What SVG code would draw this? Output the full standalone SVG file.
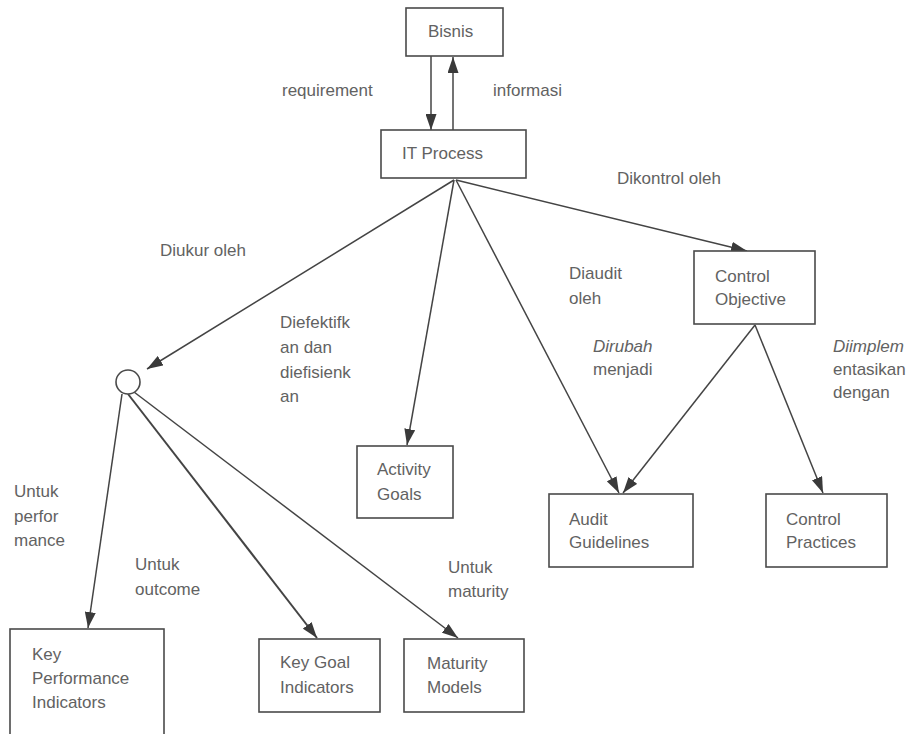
<svg xmlns="http://www.w3.org/2000/svg" width="913" height="734" viewBox="0 0 913 734">
  <style>
    .box { fill: #ffffff; stroke: #4a4a4a; stroke-width: 1.6; }
    .edge { fill: none; stroke: #444444; stroke-width: 1.5; }
    .lbl { font-family: "Liberation Sans", Arial, sans-serif; font-size: 17px; fill: #626262; }
    .it { font-style: italic; }
  </style>
  <defs>
    <marker id="arrow" viewBox="0 0 16 11" refX="16" refY="5.5" markerWidth="16" markerHeight="11" markerUnits="userSpaceOnUse" orient="auto">
      <path d="M0,0 L16,5.5 L0,11 Z" fill="#3a3a3a"/>
    </marker>
  </defs>
  <rect width="913" height="734" fill="#ffffff"/>

  <g id="connectors">
    <line class="edge" x1="431" y1="56" x2="431" y2="130" marker-end="url(#arrow)"/>
    <line class="edge" x1="453" y1="130" x2="453" y2="57" marker-end="url(#arrow)"/>
    <line class="edge" x1="454" y1="180" x2="147" y2="369" marker-end="url(#arrow)"/>
    <line class="edge" x1="454" y1="180" x2="407" y2="445" marker-end="url(#arrow)"/>
    <line class="edge" x1="456" y1="180" x2="619" y2="493" marker-end="url(#arrow)"/>
    <line class="edge" x1="456" y1="180" x2="747" y2="251" marker-end="url(#arrow)"/>
    <line class="edge" x1="755" y1="325" x2="623" y2="493" marker-end="url(#arrow)"/>
    <line class="edge" x1="755" y1="325" x2="823" y2="493" marker-end="url(#arrow)"/>
    <line class="edge" x1="122" y1="394" x2="88" y2="628" marker-end="url(#arrow)"/>
    <line class="edge" x1="128" y1="394" x2="317" y2="638" marker-end="url(#arrow)" style="stroke-width:2"/>
    <line class="edge" x1="134" y1="392" x2="458" y2="638" marker-end="url(#arrow)"/>
  </g>

  <g id="labels">
    <text class="lbl" x="282" y="96">requirement</text>
    <text class="lbl" x="493" y="96">informasi</text>
    <text class="lbl" x="617" y="184">Dikontrol oleh</text>
    <text class="lbl" x="160" y="256">Diukur oleh</text>
    <text class="lbl" x="280" y="328">Diefektifk</text>
    <text class="lbl" x="280" y="353">an dan</text>
    <text class="lbl" x="280" y="378">diefisienk</text>
    <text class="lbl" x="280" y="402">an</text>
    <text class="lbl" x="569" y="279">Diaudit</text>
    <text class="lbl" x="569" y="304">oleh</text>
    <text class="lbl it" x="593" y="352">Dirubah</text>
    <text class="lbl" x="593" y="375">menjadi</text>
    <text class="lbl it" x="833" y="352">Diimplem</text>
    <text class="lbl" x="833" y="375">entasikan</text>
    <text class="lbl" x="833" y="398">dengan</text>
    <text class="lbl" x="14" y="497">Untuk</text>
    <text class="lbl" x="14" y="522">perfor</text>
    <text class="lbl" x="14" y="546">mance</text>
    <text class="lbl" x="135" y="570">Untuk</text>
    <text class="lbl" x="135" y="595">outcome</text>
    <text class="lbl" x="448" y="573">Untuk</text>
    <text class="lbl" x="448" y="597">maturity</text>
  </g>

  <g id="bisnis">
    <rect class="box" x="406" y="8" width="97" height="48"/>
    <text class="lbl" x="428" y="37">Bisnis</text>
  </g>
  <g id="it-process">
    <rect class="box" x="381" y="130" width="145" height="48"/>
    <text class="lbl" x="402" y="159">IT Process</text>
  </g>
  <g id="control-objective">
    <rect class="box" x="694" y="251" width="121" height="73"/>
    <text class="lbl" x="715" y="282">Control</text>
    <text class="lbl" x="715" y="305">Objective</text>
  </g>
  <g id="junction">
    <circle cx="128" cy="382" r="12" fill="#ffffff" stroke="#4a4a4a" stroke-width="1.6"/>
  </g>
  <g id="activity-goals">
    <rect class="box" x="357" y="446" width="96" height="72"/>
    <text class="lbl" x="377" y="475">Activity</text>
    <text class="lbl" x="377" y="500">Goals</text>
  </g>
  <g id="audit-guidelines">
    <rect class="box" x="549" y="494" width="144" height="73"/>
    <text class="lbl" x="569" y="525">Audit</text>
    <text class="lbl" x="569" y="548">Guidelines</text>
  </g>
  <g id="control-practices">
    <rect class="box" x="766" y="494" width="121" height="73"/>
    <text class="lbl" x="786" y="525">Control</text>
    <text class="lbl" x="786" y="548">Practices</text>
  </g>
  <g id="kpi">
    <rect class="box" x="10" y="629" width="154" height="115"/>
    <text class="lbl" x="32" y="660">Key</text>
    <text class="lbl" x="32" y="684">Performance</text>
    <text class="lbl" x="32" y="708">Indicators</text>
  </g>
  <g id="kgi">
    <rect class="box" x="259" y="639" width="121" height="73"/>
    <text class="lbl" x="280" y="668">Key Goal</text>
    <text class="lbl" x="280" y="693">Indicators</text>
  </g>
  <g id="maturity-models">
    <rect class="box" x="404" y="639" width="120" height="73"/>
    <text class="lbl" x="427" y="669">Maturity</text>
    <text class="lbl" x="427" y="693">Models</text>
  </g>
</svg>
